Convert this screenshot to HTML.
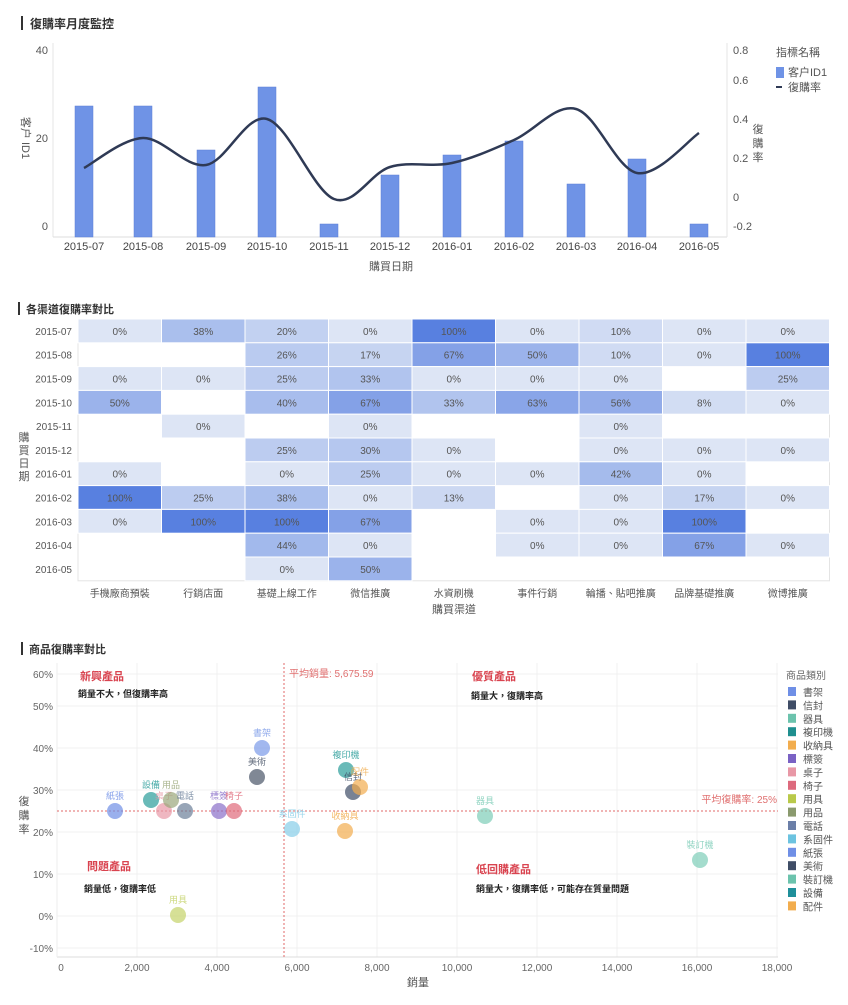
<!DOCTYPE html>
<html><head><meta charset="utf-8">
<style>
body{margin:0;background:#fff;}
svg{display:block;font-family:"Liberation Sans","Noto Sans CJK TC",sans-serif;}
</style></head>
<body>
<svg id="s" width="848" height="1005" viewBox="0 0 848 1005" xmlns="http://www.w3.org/2000/svg">
<rect width="848" height="1005" fill="#fff"/>
<!-- titles -->
<rect x="21" y="16" width="2" height="14" fill="#333"/>
<text x="30" y="28" font-size="12" fill="#333" font-weight="bold">復購率月度監控</text>
<rect x="18" y="302" width="2" height="13" fill="#333"/>
<text x="26" y="313" font-size="11" fill="#333" font-weight="bold">各渠道復購率對比</text>
<rect x="21" y="642" width="2" height="13" fill="#333"/>
<text x="29" y="653" font-size="11" fill="#333" font-weight="bold">商品復購率對比</text>
<g id="c1"></g><g id="c2"></g><g id="c3"></g>
</svg>
<script>
const NS="http://www.w3.org/2000/svg";
function el(p,t,a,txt){const e=document.createElementNS(NS,t);for(const k in a)e.setAttribute(k,a[k]);if(txt!==undefined)e.textContent=txt;document.getElementById(p).appendChild(e);return e;}
// ---------- chart 1
const c1="c1";
el(c1,"line",{x1:53,y1:43,x2:53,y2:237,stroke:"#e6e6e6"});
el(c1,"line",{x1:53,y1:237,x2:727,y2:237,stroke:"#ddd"});
el(c1,"line",{x1:727,y1:43,x2:727,y2:237,stroke:"#e6e6e6"});
[["40",50],["20",138],["0",226]].forEach(([t,y])=>el(c1,"text",{x:48,y:y+4,"font-size":11,fill:"#555","text-anchor":"end"},t));
[["0.8",50],["0.6",80],["0.4",119],["0.2",158],["0",197],["-0.2",226]].forEach(([t,y])=>el(c1,"text",{x:733,y:y+4,"font-size":11,fill:"#555"},t));
const t1=el(c1,"text",{x:0,y:0,"font-size":11,fill:"#555",transform:"translate(22,138) rotate(90)","text-anchor":"middle"},"客户 ID1");
["復","購","率"].forEach((c,i)=>el(c1,"text",{x:758,y:133+i*14,"font-size":11,fill:"#555","text-anchor":"middle"},c));
const months=["2015-07","2015-08","2015-09","2015-10","2015-11","2015-12","2016-01","2016-02","2016-03","2016-04","2016-05"];
const bx=[84,143,206,267,329,390,452,514,576,637,699];
const tops=[106,106,150,87,224,175,155,141,184,159,224];
months.forEach((m,i)=>{el(c1,"rect",{x:bx[i]-9,y:tops[i],width:18,height:237-tops[i],fill:"#6f93e6",stroke:"#5b7fd6","stroke-width":0.5});
el(c1,"text",{x:bx[i],y:250,"font-size":11,fill:"#444","text-anchor":"middle"},m);});
el(c1,"text",{x:391,y:270,"font-size":11,fill:"#555","text-anchor":"middle"},"購買日期");
const ly=[168,138,165,119,199,167,163,140,109,173,133];
const lx=[84,143,206,267,334,390,452,514,576,637,699];
let d="M"+lx[0]+","+ly[0];
for(let i=0;i<lx.length-1;i++){const p0=[lx[Math.max(0,i-1)],ly[Math.max(0,i-1)]],p1=[lx[i],ly[i]],p2=[lx[i+1],ly[i+1]],p3=[lx[Math.min(lx.length-1,i+2)],ly[Math.min(lx.length-1,i+2)]];
const c1x=p1[0]+(p2[0]-p0[0])/6,c1y=p1[1]+(p2[1]-p0[1])/6,c2x=p2[0]-(p3[0]-p1[0])/6,c2y=p2[1]-(p3[1]-p1[1])/6;
d+=` C${c1x},${c1y} ${c2x},${c2y} ${p2[0]},${p2[1]}`;}
el(c1,"path",{d:d,fill:"none",stroke:"#2f3a55","stroke-width":2.5});
el(c1,"text",{x:776,y:56,"font-size":11,fill:"#555"},"指標名稱");
el(c1,"rect",{x:776,y:67,width:8,height:11,fill:"#6f93e6"});
el(c1,"text",{x:788,y:76,"font-size":11,fill:"#555"},"客户ID1");
el(c1,"rect",{x:776,y:86,width:6,height:2,fill:"#2f3a55"});
el(c1,"text",{x:788,y:91,"font-size":11,fill:"#555"},"復購率");
// ---------- chart 2
const c2="c2";
const rows=["2015-07","2015-08","2015-09","2015-10","2015-11","2015-12","2016-01","2016-02","2016-03","2016-04","2016-05"];
const cols=["手機廠商預裝","行銷店面","基礎上線工作","微信推廣","水資刷機","事件行銷","輪播、貼吧推廣","品牌基礎推廣","微博推廣"];
const N=null;
const data=[[0,38,20,0,100,0,10,0,0],[N,N,26,17,67,50,10,0,100],[0,0,25,33,0,0,0,N,25],[50,N,40,67,33,63,56,8,0],[N,0,N,0,N,N,0,N,N],[N,N,25,30,0,N,0,0,0],[0,N,0,25,0,0,42,0,N],[100,25,38,0,13,N,0,17,0],[0,100,100,67,N,0,0,100,N],[N,N,44,0,N,0,0,67,0],[N,N,0,50,N,N,N,N,N]];
const X0=78,Y0=319,CW=83.5,RH=23.8;
el(c2,"rect",{x:X0,y:Y0,width:CW*9,height:RH*11,fill:"#fff",stroke:"#e4e4e4"});
function col(v){const a=[221,229,245],b=[88,128,224];const t=v/100;return `rgb(${Math.round(a[0]+(b[0]-a[0])*t)},${Math.round(a[1]+(b[1]-a[1])*t)},${Math.round(a[2]+(b[2]-a[2])*t)})`;}
data.forEach((r,i)=>{el(c2,"text",{x:72,y:Y0+RH*i+RH/2+4,"font-size":10,fill:"#555","text-anchor":"end"},rows[i]);
r.forEach((v,j)=>{if(v===null)return;el(c2,"rect",{x:X0+CW*j,y:Y0+RH*i,width:CW,height:RH,fill:col(v),stroke:"#fff","stroke-width":1});
el(c2,"text",{x:X0+CW*j+CW/2,y:Y0+RH*i+RH/2+4,"font-size":10,fill:"#555","text-anchor":"middle"},v+"%");});});
cols.forEach((c,j)=>el(c2,"text",{x:X0+CW*j+CW/2,y:597,"font-size":10,fill:"#555","text-anchor":"middle"},c));
el(c2,"text",{x:454,y:613,"font-size":11,fill:"#555","text-anchor":"middle"},"購買渠道");
["購","買","日","期"].forEach((c,i)=>el(c2,"text",{x:24,y:441+i*13,"font-size":11,fill:"#555","text-anchor":"middle"},c));
// ---------- chart 3
const c3="c3";
const X=v=>57+v*0.04, Y=p=>916-p*4.2;
const ylab=[[60,674],[50,706],[40,748],[30,790],[20,832],[10,874],[0,916],[-10,948]];
ylab.forEach(([p,y])=>{el(c3,"line",{x1:57,y1:y,x2:778,y2:y,stroke:"#f0f0f0"});el(c3,"text",{x:53,y:y+4,"font-size":10,fill:"#666","text-anchor":"end"},p+"%");});
for(let v=2000;v<=18000;v+=2000){el(c3,"line",{x1:X(v),y1:663,x2:X(v),y2:957,stroke:"#f0f0f0"});}
for(let v=0;v<=18000;v+=2000){el(c3,"text",{x:X(v)+(v==0?4:0),y:971,"font-size":10,fill:"#666","text-anchor":"middle"},v==0?"0":v.toLocaleString("en-US"));}
el(c3,"line",{x1:57,y1:957,x2:778,y2:957,stroke:"#ddd"});
el(c3,"line",{x1:57,y1:663,x2:57,y2:957,stroke:"#eee"});
el(c3,"text",{x:418,y:986,"font-size":11,fill:"#555","text-anchor":"middle"},"銷量");
["復","購","率"].forEach((c,i)=>el(c3,"text",{x:24,y:805+i*14,"font-size":11,fill:"#555","text-anchor":"middle"},c));
el(c3,"line",{x1:284,y1:663,x2:284,y2:957,stroke:"#e06a6a","stroke-dasharray":"2,2"});
el(c3,"line",{x1:57,y1:811,x2:778,y2:811,stroke:"#e06a6a","stroke-dasharray":"2,2"});
el(c3,"text",{x:289,y:677,"font-size":10,fill:"#e07070"},"平均銷量: 5,675.59");
el(c3,"text",{x:777,y:803,"font-size":10,fill:"#e07070","text-anchor":"end"},"平均復購率: 25%");
const pts=[["書架",262,748,"#7b9ae8"],["美術",257,777,"#4a5568"],["設備",151,800,"#2a9d9a"],["桌子",164,811,"#e898a6"],["用品",171,800,"#9aa77a"],["紙張",115,811,"#6f8fe6"],["電話",185,811,"#6b7f99"],["標簽",219,811,"#8a6fc9"],["椅子",234,811,"#e06a7a"],["系固件",292,829,"#86cde8"],["複印機",346,770,"#2a9d9a"],["信封",353,792,"#3f4d66"],["配件",360,787,"#f2ad4e"],["收納具",345,831,"#f2ad4e"],["器具",485,816,"#7ecdb8"],["裝訂機",700,860,"#7ecdb8"],["用具",178,915,"#c5d36a"]];
pts.forEach(([n,x,y,c])=>{el(c3,"circle",{cx:x,cy:y,r:8,fill:c,opacity:0.7});el(c3,"text",{x:x,y:y-12,"font-size":9,fill:c,"text-anchor":"middle",opacity:0.85},n);});
const red="#d9434f";
el(c3,"text",{x:80,y:680,"font-size":11,fill:red,"font-weight":"bold"},"新興產品");
el(c3,"text",{x:78,y:697,"font-size":9,fill:"#222","font-weight":"bold"},"銷量不大，但復購率高");
el(c3,"text",{x:472,y:680,"font-size":11,fill:red,"font-weight":"bold"},"優質產品");
el(c3,"text",{x:471,y:699,"font-size":9,fill:"#222","font-weight":"bold"},"銷量大，復購率高");
el(c3,"text",{x:87,y:870,"font-size":11,fill:red,"font-weight":"bold"},"問題產品");
el(c3,"text",{x:84,y:892,"font-size":9,fill:"#222","font-weight":"bold"},"銷量低，復購率低");
el(c3,"text",{x:476,y:873,"font-size":11,fill:red,"font-weight":"bold"},"低回購產品");
el(c3,"text",{x:476,y:892,"font-size":9,fill:"#222","font-weight":"bold"},"銷量大，復購率低，可能存在質量問題");
el(c3,"text",{x:786,y:679,"font-size":10,fill:"#666"},"商品類別");
const lg=[["書架","#6f8fe6"],["信封","#3f4d66"],["器具","#6cc3ad"],["複印機","#1f8f8f"],["收納具","#f2ad4e"],["標簽","#7a62c4"],["桌子","#e898a6"],["椅子","#dd6a7d"],["用具","#b9c94a"],["用品","#8a9a6e"],["電話","#6b7fa8"],["系固件","#6cc3e0"],["紙張","#6f8fe6"],["美術","#3f4d66"],["裝訂機","#6cc3ad"],["設備","#1f8f9a"],["配件","#f2ad4e"]];
lg.forEach(([n,c],i)=>{const y=692+i*13.4;el(c3,"rect",{x:788,y:y-5,width:8,height:9,fill:c});el(c3,"text",{x:803,y:y+4,"font-size":10,fill:"#555"},n);});
</script>
</body></html>
